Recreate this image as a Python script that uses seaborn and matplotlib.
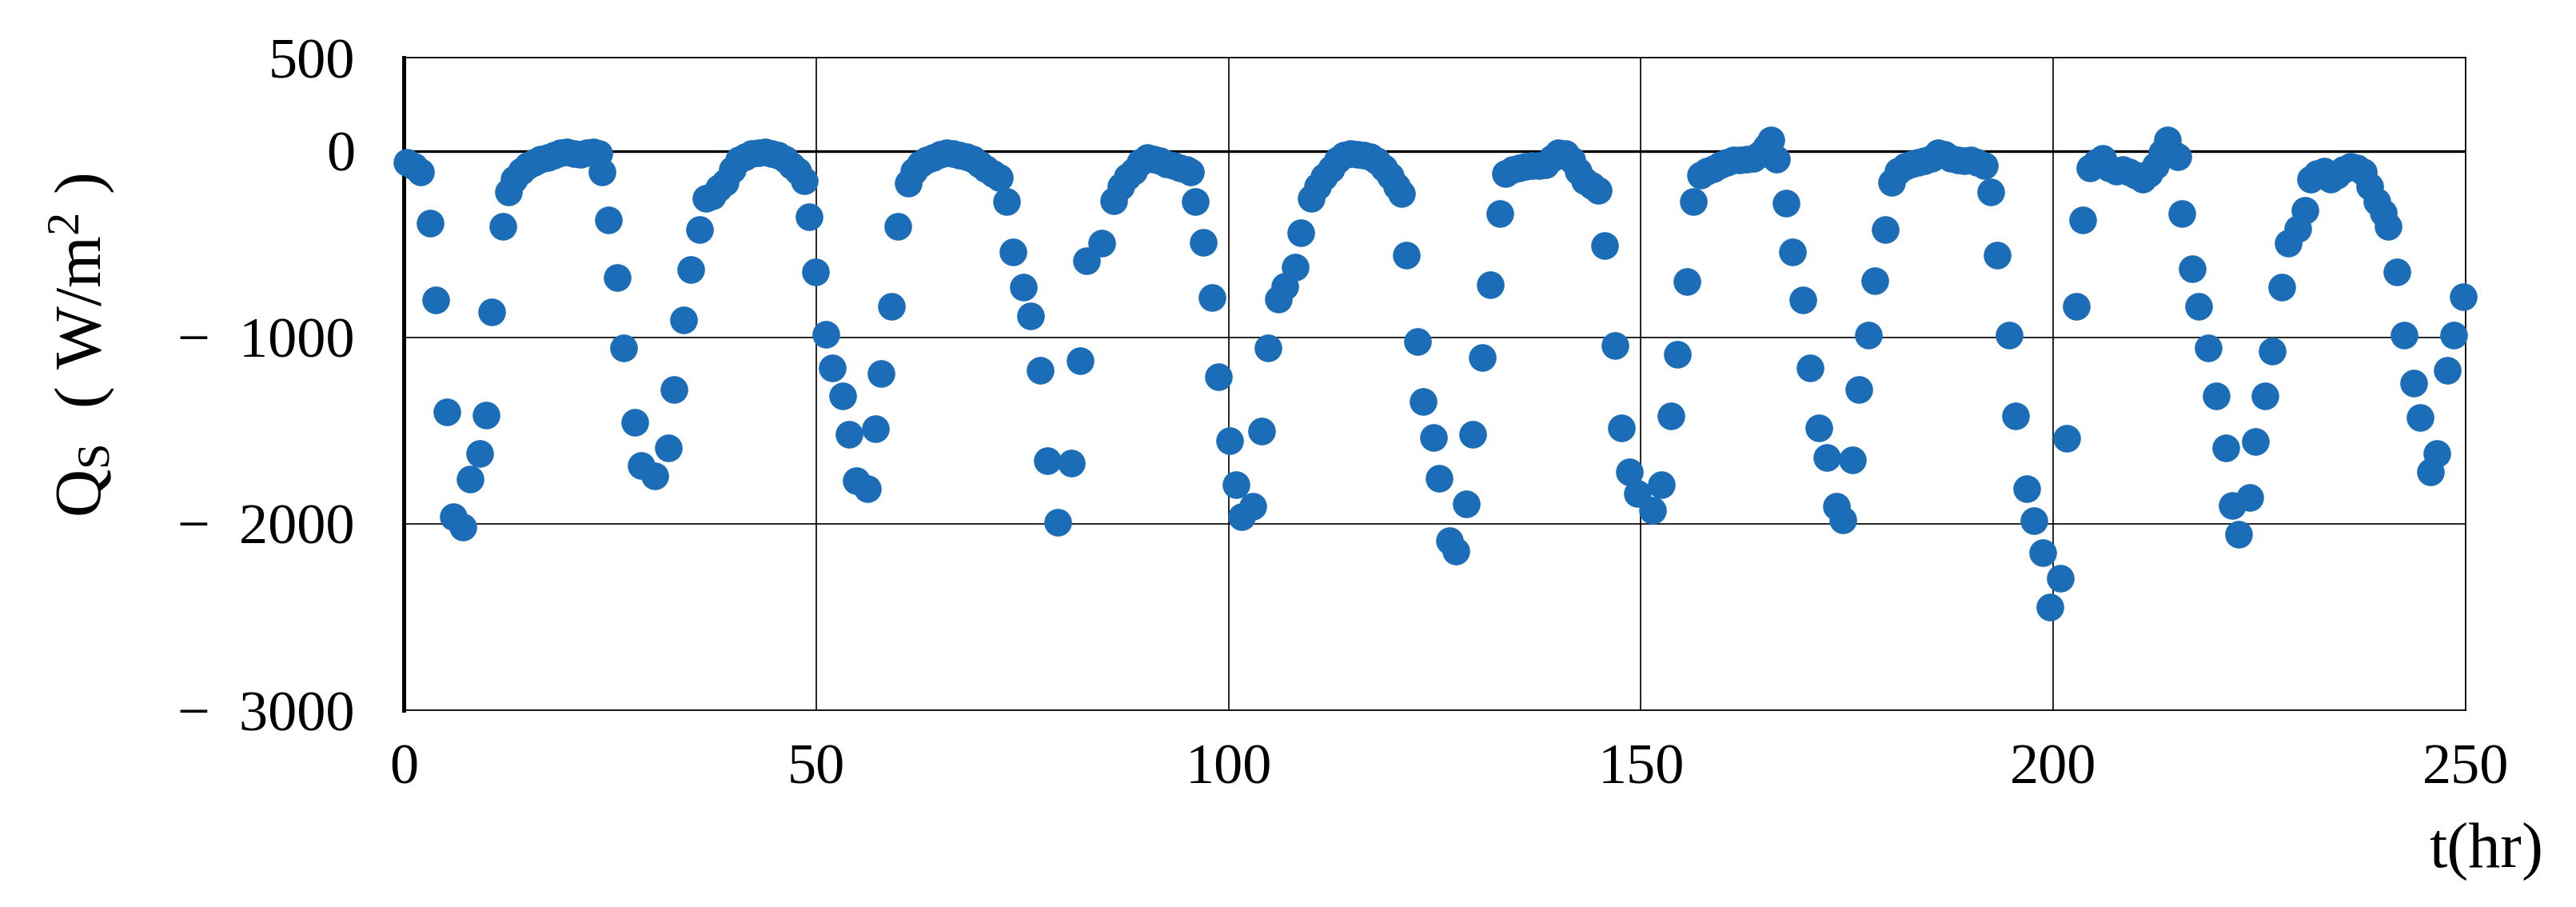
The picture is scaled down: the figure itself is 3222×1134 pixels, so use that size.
import matplotlib
matplotlib.use("Agg")
import matplotlib.pyplot as plt
import seaborn as sns
import pandas as pd
from matplotlib.ticker import FuncFormatter

plt.rcParams["font.family"] = ["Liberation Serif", "DejaVu Serif"]
plt.rcParams["mathtext.fontset"] = "custom"
plt.rcParams["mathtext.rm"] = "Liberation Serif"
plt.rcParams["mathtext.it"] = "Liberation Serif:italic"

# time (hr) and surface heat flux Qs (W/m2)
t_hr = [
    0.4, 1.3, 2.0, 3.2, 3.9, 5.2, 6.05, 7.2, 8.0, 9.2, 10.0, 10.7, 12.0, 12.7,
    13.4, 14.2, 15.0, 15.8, 16.6, 17.4, 18.2, 19.0, 19.8, 20.6, 21.4, 22.2, 23.0, 23.6,
    24.0, 24.8, 25.9, 26.7, 28.0, 28.8, 30.4, 32.1, 32.8, 33.9, 34.8, 35.9,
    36.6, 37.4, 38.2, 39.0, 39.8, 40.6, 41.4, 42.2, 43.0, 43.8, 44.6, 45.4, 46.2, 47.0, 47.8, 48.6,
    49.1, 49.95, 51.15, 51.95, 53.2, 53.96, 54.9, 56.2, 57.2, 57.9, 59.1, 59.9,
    61.2, 61.8, 62.6, 63.4, 64.2, 65.0, 65.8, 66.6, 67.4, 68.2, 69.0, 69.8, 70.6, 71.4, 72.2,
    73.1, 73.9, 75.1, 75.95, 77.2, 78.0, 79.3, 80.9, 82.0, 82.8, 84.6,
    86.1, 86.9, 87.7, 88.5, 89.3, 90.1, 90.9, 91.7, 92.5, 93.3, 94.1, 94.9, 95.4,
    96.0, 96.9, 98.0, 98.8, 100.1, 100.9, 101.6, 102.9, 104.0, 104.8, 106.0, 106.8, 108.1, 108.8,
    110.0, 110.8, 111.6, 112.4, 113.2, 114.0, 114.8, 115.6, 116.4, 117.2, 118.0, 118.8, 119.6, 120.4, 121.0,
    121.6, 122.9, 123.6, 124.8, 125.5, 126.8, 127.6, 128.8, 129.6, 130.8, 131.7, 132.9,
    133.6, 134.4, 135.2, 136.0, 136.8, 137.6, 138.4, 139.2, 140.0, 140.8, 141.6, 142.4, 143.2, 144.0, 144.8,
    145.6, 146.9, 147.6, 148.6, 149.6, 151.4, 152.5, 153.6, 154.4, 155.6, 156.4,
    157.2, 158.0, 158.8, 159.6, 160.4, 161.2, 162.0, 162.8, 163.6, 164.4, 165.2, 165.8, 166.4,
    167.6, 168.4, 169.6, 170.5, 171.6, 172.5, 173.7, 174.5, 175.6, 176.4, 177.6, 178.4, 179.6, 180.4,
    181.2, 182.0, 182.8, 183.6, 184.4, 185.2, 186.0, 186.8, 187.6, 188.4, 189.2, 190.0, 190.8, 191.6,
    192.4, 193.2, 194.6, 195.4, 196.8, 197.6, 198.7, 199.6, 200.8, 201.6, 202.8, 203.6,
    204.4, 205.2, 206.0, 206.8, 207.6, 208.4, 209.2, 210.0, 210.8, 211.6, 212.4, 213.2, 213.8, 214.6, 215.1,
    215.6, 216.8, 217.6, 218.8, 219.7, 220.9, 221.7, 222.5, 223.8, 224.5, 225.7, 226.5, 227.7, 228.5, 229.6,
    230.5, 231.2, 232.0, 232.8, 233.6, 234.4, 235.2, 236.0, 236.8, 237.6, 238.4, 239.2, 240.0, 240.6,
    241.7, 242.5, 243.7, 244.5, 245.7, 246.5, 247.8, 248.5, 249.7,
]
q_s = [
    -60, -85, -115, -388, -799, -1402, -1963, -2016, -1760, -1624, -1418, -866, -406, -219,
    -150, -110, -80, -60, -45, -35, -25, -10, -5, -15, -20, -10, -5, -15,
    -115, -370, -681, -1058, -1455, -1686, -1744, -1594, -1282, -905, -635, -423,
    -254, -240, -200, -170, -100, -50, -30, -15, -10, -5, -15, -25, -45, -80, -110, -160,
    -353, -649, -986, -1162, -1316, -1520, -1767, -1813, -1490, -1194, -834, -404,
    -173, -110, -70, -50, -35, -20, -10, -15, -25, -30, -45, -70, -95, -120, -145,
    -270, -543, -732, -885, -1178, -1663, -1993, -1674, -1127, -589, -497,
    -266, -190, -140, -110, -60, -35, -45, -55, -70, -80, -90, -100, -115,
    -270, -492, -785, -1212, -1554, -1790, -1963, -1905, -1501, -1058, -797, -727, -624, -439,
    -254, -190, -140, -95, -50, -25, -15, -20, -25, -30, -55, -90, -135, -190, -230,
    -559, -1023, -1346, -1536, -1756, -2090, -2148, -1894, -1520, -1109, -716, -335,
    -120, -100, -90, -85, -80, -80, -75, -40, -10, -15, -50, -110, -160, -185, -210,
    -510, -1042, -1485, -1721, -1836, -1928, -1790, -1420, -1092, -700, -270,
    -130, -110, -95, -75, -60, -50, -50, -45, -40, -20, 20, 60, -46,
    -282, -543, -799, -1162, -1485, -1644, -1905, -1979, -1656, -1282, -988, -697, -423, -169,
    -110, -85, -70, -60, -55, -40, -10, -20, -40, -50, -55, -50, -60, -80,
    -219, -561, -988, -1420, -1813, -1982, -2155, -2448, -2291, -1540, -834, -370,
    -90, -60, -40, -90, -110, -100, -115, -130, -150, -120, -80, -10, 60, -20, -30,
    -337, -633, -836, -1058, -1314, -1594, -1901, -2055, -1859, -1557, -1314, -1074, -732, -497, -416,
    -319, -150, -120, -110, -150, -130, -100, -85, -90, -115, -190, -270, -330, -404,
    -649, -988, -1247, -1432, -1721, -1624, -1178, -988, -781,
]
x_ticks = [0, 50, 100, 150, 200, 250]
y_ticks = [500, 0, -1000, -2000, -3000]

df = pd.DataFrame({"t": t_hr, "q": q_s})

fig = plt.figure(figsize=(16.115, 5.67), dpi=200)
ax = fig.add_axes([0.1567, 0.2169, 0.8002, 0.7196])

sns.scatterplot(x="t", y="q", data=df, ax=ax, color="#1c6db7", s=155,
                linewidth=0, clip_on=False, zorder=3)

ax.set_xlim(0, 250)
ax.set_ylim(-3000, 500)
ax.set_xticks(x_ticks)
ax.set_yticks(y_ticks)


def ylab(v, pos):
    if v < 0:
        return "\u2212  " + str(int(-v))
    return str(int(v))


ax.yaxis.set_major_formatter(FuncFormatter(ylab))
ax.tick_params(length=0, labelsize=26)
ax.tick_params(axis="y", pad=22)
ax.tick_params(axis="x", pad=15)

ax.grid(True, color="black", lw=0.6)
ax.axhline(0, color="black", lw=1.2, zorder=1)
ax.set_axisbelow(True)
for side in ["top", "right", "bottom"]:
    ax.spines[side].set_linewidth(0.6)
ax.spines["left"].set_linewidth(1.8)

ax.set_ylabel(r"Q$_{\mathregular{S}}$  ( W/m$^{\mathregular{2}}$ )", fontsize=30)
ax.yaxis.set_label_coords(-0.156, 0.559)
ax.yaxis.label.set_va("center")
ax.set_xlabel("t(hr)", fontsize=29)
ax.xaxis.set_label_coords(1.01, -0.217)
ax.xaxis.label.set_va("center")

fig.savefig("out.png", dpi=200)
